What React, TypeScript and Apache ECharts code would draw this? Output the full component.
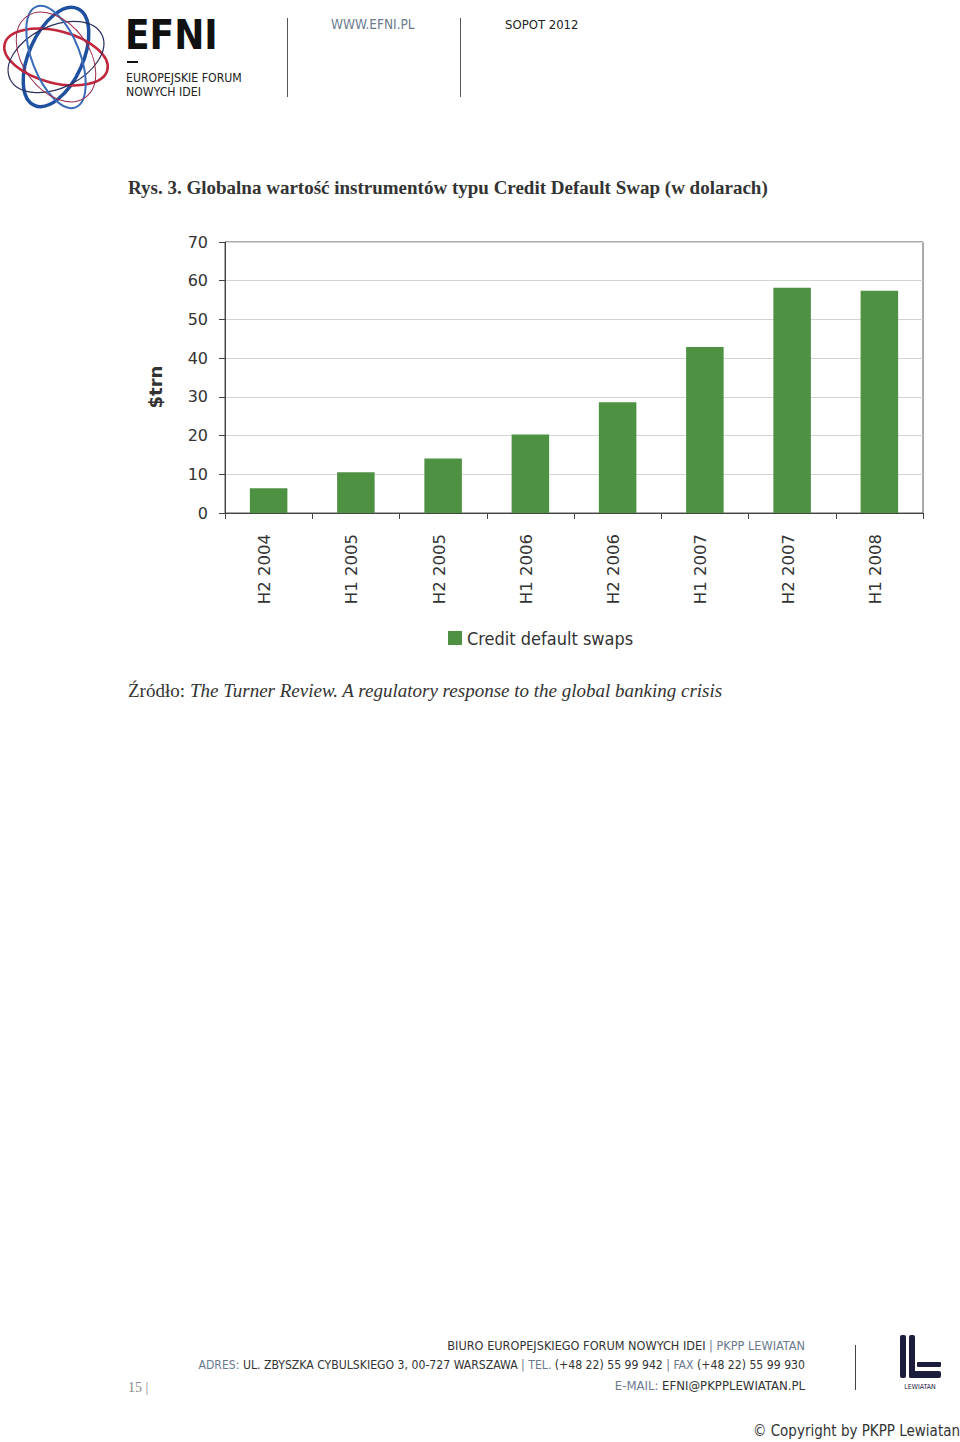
import React, { useEffect, useRef } from "react";
import * as echarts from "echarts";

const categories = ["H2 2004", "H1 2005", "H2 2005", "H1 2006", "H2 2006", "H1 2007", "H2 2007", "H1 2008"];
const cdsValues = [6.4, 10.5, 14.1, 20.3, 28.6, 42.9, 58.2, 57.4];
const seriesName = "Credit default swaps";
const yTicks = { min: 0, max: 70, interval: 10 };
const yAxisName = "$trn";

const titleText = "Rys. 3. Globalna wartość instrumentów typu Credit Default Swap (w dolarach)";
const sourceLead = "Źródło: ";
const sourceItalic = "The Turner Review. A regulatory response to the global banking crisis";

const NARROW = '"DejaVu Sans Condensed", "Liberation Sans Narrow", "Roboto", sans-serif';
const SERIF = '"Liberation Serif", "DejaVu Serif", serif';
const SANS = '"DejaVu Sans", sans-serif';

export default function App() {
  const ref = useRef<HTMLDivElement>(null);
  useEffect(() => {
    document.body.style.margin = "0";
    const chart = echarts.init(ref.current!, null, { renderer: "svg" });
    const green = "#4f9142";
    const gb = "#6b7a8f";
    const rich = (size: number) => ({ g: { fill: gb, font: `${size}px ${NARROW}` } });
    const option: any = {
      animation: false,
      backgroundColor: "#ffffff",
      grid: {
        left: 225, top: 242, width: 698, height: 271,
        show: true, borderColor: "#555", borderWidth: 1, containLabel: false,
      },
      legend: {
        left: 443, top: 624, itemWidth: 14, itemHeight: 14, itemGap: 8,
        icon: "rect",
        textStyle: { fontFamily: NARROW, fontSize: 18, color: "#333" },
        data: [seriesName],
      },
      xAxis: {
        type: "category",
        data: categories,
        axisLine: { lineStyle: { color: "#444", width: 1 } },
        axisTick: { show: true, length: 6, lineStyle: { color: "#444" } },
        axisLabel: { rotate: 90, margin: 21, fontFamily: SANS, fontSize: 16.5, color: "#333", verticalAlign: "bottom", lineHeight: 8 },
      },
      yAxis: {
        type: "value",
        min: yTicks.min, max: yTicks.max, interval: yTicks.interval,
        axisLine: { show: true, lineStyle: { color: "#444", width: 1 } },
        axisTick: { show: true, length: 6, lineStyle: { color: "#444" } },
        axisLabel: { margin: 17, fontFamily: SANS, fontSize: 16, color: "#333" },
        splitLine: { show: true, lineStyle: { color: "#d4d4d4", width: 1 } },
      },
      series: [
        { name: seriesName, type: "bar", data: cdsValues, barWidth: "43%", itemStyle: { color: green } },
      ],
      graphic: [
        // axis name
        { type: "text", x: 155, y: 387, rotation: Math.PI / 2, style: { text: yAxisName, font: `bold 18px ${SANS}`, fill: "#333", textAlign: "center", textVerticalAlign: "middle" } },
        // logo rings
        { type: "ellipse", x: 56, y: 57, rotation: 1.15, shape: { cx: 0, cy: 0, rx: 53, ry: 27 }, style: { fill: "none", stroke: "#1f4f9f", lineWidth: 3.5 } },
        { type: "ellipse", x: 56, y: 57, rotation: -0.25, shape: { cx: 0, cy: 0, rx: 53, ry: 26 }, style: { fill: "none", stroke: "#c2263c", lineWidth: 2.5 } },
        { type: "ellipse", x: 56, y: 57, rotation: 0.45, shape: { cx: 0, cy: 0, rx: 51, ry: 31 }, style: { fill: "none", stroke: "#2b2f5e", lineWidth: 1.2 } },
        { type: "ellipse", x: 56, y: 57, rotation: -1.2, shape: { cx: 0, cy: 0, rx: 54, ry: 24 }, style: { fill: "none", stroke: "#3a6bb8", lineWidth: 2 } },
        { type: "ellipse", x: 56, y: 57, rotation: 2.2, shape: { cx: 0, cy: 0, rx: 50, ry: 33 }, style: { fill: "none", stroke: "#9b2a4a", lineWidth: 1 } },
        // header
        { type: "text", x: 125, y: 35, style: { text: "EFNI", font: `bold 40px ${NARROW}`, fill: "#111", textAlign: "left", textVerticalAlign: "middle" } },
        { type: "rect", shape: { x: 127, y: 61, width: 11, height: 2 }, style: { fill: "#111" } },
        { type: "text", x: 126, y: 78, style: { text: "EUROPEJSKIE FORUM", font: `12.2px ${NARROW}`, fill: "#222", textAlign: "left", textVerticalAlign: "middle" } },
        { type: "text", x: 126, y: 92, style: { text: "NOWYCH IDEI", font: `12.2px ${NARROW}`, fill: "#222", textAlign: "left", textVerticalAlign: "middle" } },
        { type: "line", shape: { x1: 287.5, y1: 18, x2: 287.5, y2: 97 }, style: { stroke: "#555", lineWidth: 1 } },
        { type: "text", x: 331, y: 24, style: { text: "WWW.EFNI.PL", font: `13.5px ${NARROW}`, fill: gb, textAlign: "left", textVerticalAlign: "middle" } },
        { type: "line", shape: { x1: 460.5, y1: 18, x2: 460.5, y2: 97 }, style: { stroke: "#555", lineWidth: 1 } },
        { type: "text", x: 505, y: 24, style: { text: "SOPOT 2012", font: `13px ${NARROW}`, fill: "#222", textAlign: "left", textVerticalAlign: "middle" } },
        // title
        { type: "text", x: 128, y: 187, style: { text: titleText, font: `bold 19px ${SERIF}`, fill: "#333", textAlign: "left", textVerticalAlign: "middle" } },
        // source
        { type: "text", x: 128, y: 690, style: { text: sourceLead, font: `19px ${SERIF}`, fill: "#333", textAlign: "left", textVerticalAlign: "middle" } },
        { type: "text", x: 190, y: 690, style: { text: sourceItalic, font: `italic 19px ${SERIF}`, fill: "#333", textAlign: "left", textVerticalAlign: "middle" } },
        // footer
        { type: "text", x: 805, y: 1345, style: { text: "BIURO EUROPEJSKIEGO FORUM NOWYCH IDEI {g|| PKPP LEWIATAN}", font: `12.6px ${NARROW}`, fill: "#333", rich: rich(12.6), textAlign: "right", textVerticalAlign: "middle" } },
        { type: "text", x: 805, y: 1365, style: { text: "{g|ADRES:} UL. ZBYSZKA CYBULSKIEGO 3, 00-727 WARSZAWA {g|| TEL.} (+48 22) 55 99 942 {g|| FAX} (+48 22) 55 99 930", font: `12.15px ${NARROW}`, fill: "#333", rich: rich(12.15), textAlign: "right", textVerticalAlign: "middle" } },
        { type: "text", x: 805, y: 1385, style: { text: "{g|E-MAIL:} EFNI@PKPPLEWIATAN.PL", font: `13px ${NARROW}`, fill: "#333", rich: rich(13), textAlign: "right", textVerticalAlign: "middle" } },
        { type: "text", x: 128, y: 1387, style: { text: "15 |", font: `14px ${SERIF}`, fill: "#888", textAlign: "left", textVerticalAlign: "middle" } },
        { type: "line", shape: { x1: 855.5, y1: 1345, x2: 855.5, y2: 1390 }, style: { stroke: "#444", lineWidth: 1 } },
        // Lewiatan logo
        { type: "rect", shape: { x: 900, y: 1335, width: 6, height: 43, r: 2 }, style: { fill: "#1c1c3c" } },
        { type: "rect", shape: { x: 909, y: 1335, width: 6, height: 43, r: 2 }, style: { fill: "#1c1c3c" } },
        { type: "rect", shape: { x: 909, y: 1371, width: 32, height: 7, r: 2 }, style: { fill: "#1c1c3c" } },
        { type: "rect", shape: { x: 917, y: 1362, width: 24, height: 5, r: 1 }, style: { fill: "#1c1c3c" } },
        { type: "text", x: 920, y: 1387, style: { text: "LEWIATAN", font: `7px ${NARROW}`, fill: "#1c1c3c", textAlign: "center", textVerticalAlign: "middle" } },
        // copyright
        { type: "text", x: 960, y: 1431, style: { text: "© Copyright by PKPP Lewiatan", font: `15px ${NARROW}`, fill: "#333", textAlign: "right", textVerticalAlign: "middle" } },
      ],
    };
    chart.setOption(option);
    return () => chart.dispose();
  }, []);
  return <div ref={ref} style={{ position: "absolute", left: 0, top: 0, width: 960, height: 1442 }} />;
}
